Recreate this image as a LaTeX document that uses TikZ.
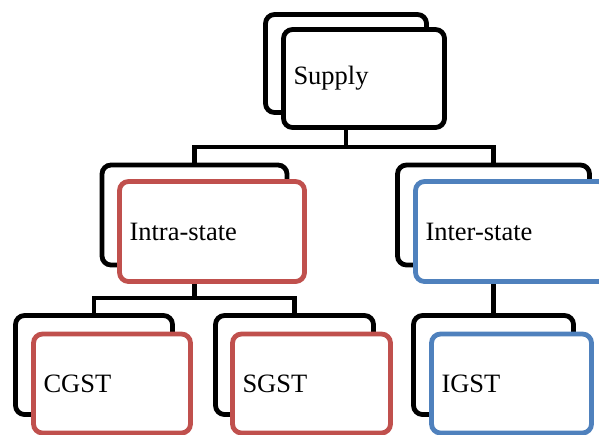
\documentclass[tikz,border=0pt]{standalone}
\usepackage{fontspec}
\setmainfont{Liberation Serif}
\usepackage{tikz}
\usetikzlibrary{backgrounds}
\usepackage{xcolor}
\definecolor{gstred}{HTML}{C0504D}
\definecolor{gstblue}{HTML}{4F81BD}

\begin{document}
\begin{tikzpicture}[x=1pt, y=-1pt,
    box/.style={draw, line width=4.8pt, rounded corners=9pt, fill=white, inner sep=10pt, align=left,
                font=\fontsize{26.5}{30}\selectfont},
    toplevel/.style={box, text width=141pt, minimum height=98pt},
    midlevel/.style={box, text width=#1, minimum height=100pt},
    lowlevel/.style={box, text width=#1, minimum height=99pt},
    link/.style={draw, line width=4.8pt}]
            \clip (0,0) rectangle (599,434);

            \node[toplevel] (supplyback) at (346,63.5) {};
            \node[toplevel] (supply) at (364,78.5) {Supply};

            \node[midlevel=165pt] (intraback) at (194.5,215) {};
            \node[midlevel=165pt, draw=gstred] (intra) at (212,231.5) {Intra-state};
            \node[midlevel=172pt] (interback) at (493.5,215) {};
            \node[midlevel=172pt, draw=gstblue] (inter) at (511.5,231.5) {Inter-state};

            \node[lowlevel=137pt] (cgstback) at (94,365) {};
            \node[lowlevel=137pt, draw=gstred] (cgst) at (112,383.5) {CGST};
            \node[lowlevel=138pt] (sgstback) at (294.5,365) {};
            \node[lowlevel=138pt, draw=gstred] (sgst) at (311.5,383.5) {SGST};
            \node[lowlevel=140pt] (igstback) at (493.5,365) {};
            \node[lowlevel=140pt, draw=gstblue] (igst) at (511.5,383.5) {IGST};

            \coordinate (upperbar) at (0,147);
            \coordinate (lowerbar) at (0,298);
            \begin{scope}[on background layer]
            \path [link] (supplyback.south) -- (supplyback.south |- upperbar);
            \path [link] (intraback.north) |- (upperbar -| supplyback.south) -| (interback.north);
            \path [link] (intraback.south) -- (intraback.south |- lowerbar);
            \path [link] (cgstback.north) |- (lowerbar -| intraback.south) -| (sgstback.north);
            \path [link] (interback.south) -- (igstback.north);
            \end{scope}
        \end{tikzpicture}
\end{document}
